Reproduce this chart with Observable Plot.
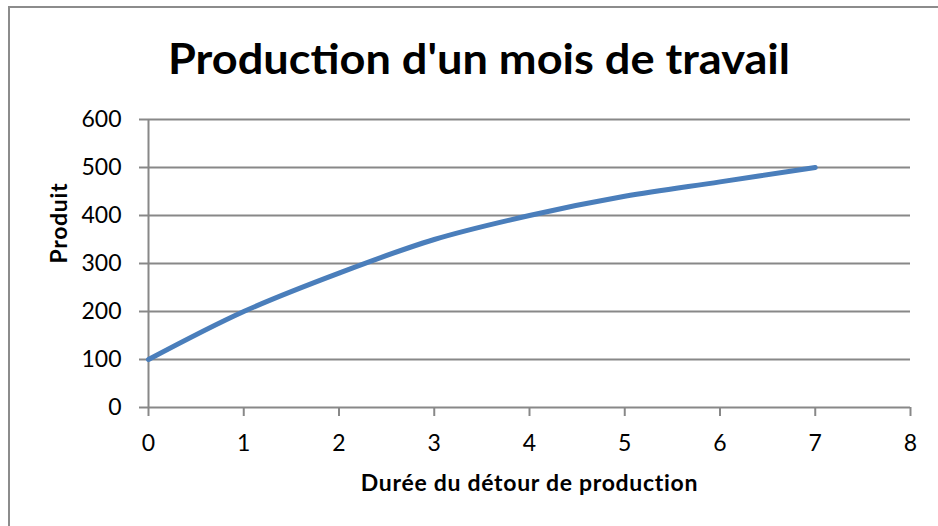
<!DOCTYPE html>
<html>
<head>
<meta charset="utf-8">
<script src="https://cdn.jsdelivr.net/npm/d3@7"></script>
<script src="https://cdn.jsdelivr.net/npm/@observablehq/plot@0.6"></script>
<style>
  html, body { margin: 0; padding: 0; background: #fff; overflow: hidden; }
  #page { position: relative; width: 938px; height: 526px; overflow: hidden; font-family: Lato, "Open Sans", sans-serif; }
  #frame { position: absolute; left: 8px; top: 6px; width: 1000px; height: 600px; border: 2px solid #8c8c8c; box-sizing: border-box; }
  #title { position: absolute; left: 0; top: 0; width: 938px; height: 100px; }
  #title span { position: absolute; left: 479px; top: 58px; transform-origin: center center; white-space: nowrap; font-weight: bold; font-size: 42px; color: #000; line-height: 1; }
  #chart { position: absolute; left: 0; top: 100px; }
</style>
</head>
<body>
<div id="page">
  <div id="frame"></div>
  <div id="title"><span id="tspan">Production d'un mois de travail</span></div>
  <div id="chart"></div>
</div>
<script>
const titleText = "Production d'un mois de travail";
const xLabel = "Durée du détour de production";
const yLabel = "Produit";
const durations = [0, 1, 2, 3, 4, 5, 6, 7];
const produits = [100, 200, 280, 350, 400, 440, 470, 500];
const xTicks = [0, 1, 2, 3, 4, 5, 6, 7, 8];
const yTicks = [0, 100, 200, 300, 400, 500, 600];

const data = durations.map((d, i) => ({duree: d, produit: produits[i]}));

const gridColor = "#888888";

const chart = Plot.plot({
  width: 938,
  height: 426,
  marginLeft: 148,
  marginRight: 28,
  marginTop: 19,
  marginBottom: 119,
  style: {fontFamily: "Lato, 'Open Sans', sans-serif", fontSize: "23px", color: "#000", background: "transparent"},
  x: {domain: [0, 8]},
  y: {domain: [0, 600]},
  marks: [
    Plot.ruleY(yTicks, {x1: 0, x2: 8, stroke: gridColor, strokeWidth: 2}),
    Plot.ruleX([0], {y1: 0, y2: 600, stroke: gridColor, strokeWidth: 2}),
    Plot.axisY({ticks: yTicks, tickSize: 9, tickPadding: 18, stroke: gridColor, strokeWidth: 2, fill: "#000", fontSize: 23, label: null, tickFormat: d => String(d)}),
    Plot.axisX({ticks: xTicks, tickSize: 9, tickPadding: 18, stroke: gridColor, strokeWidth: 2, fill: "#000", fontSize: 23, label: null, tickFormat: d => String(d)}),
    Plot.line(data, {x: "duree", y: "produit", stroke: "#4a7ebb", strokeWidth: 5, curve: "catmull-rom", strokeLinecap: "round"}),
    Plot.text([yLabel], {frameAnchor: "left", dx: -89, rotate: -90, fontWeight: "bold", fontSize: 23, fill: "#000", text: d => d}),
    Plot.text([xLabel], {frameAnchor: "bottom", dy: 83, fontWeight: "bold", fontSize: 23, fill: "#000", text: d => d})
  ]
});
document.getElementById("chart").appendChild(chart);

d3.select(chart).selectAll("text").filter(function() {
  const t = this.textContent;
  return t === xLabel || t === yLabel;
}).style("letter-spacing", "0.7px");

const ts = document.getElementById("tspan");
ts.textContent = titleText;
const w = ts.getBoundingClientRect().width;
const sx = 622 / w;
ts.style.transform = `translate(-50%, -50%) scaleX(${sx})`;
</script>
</body>
</html>
